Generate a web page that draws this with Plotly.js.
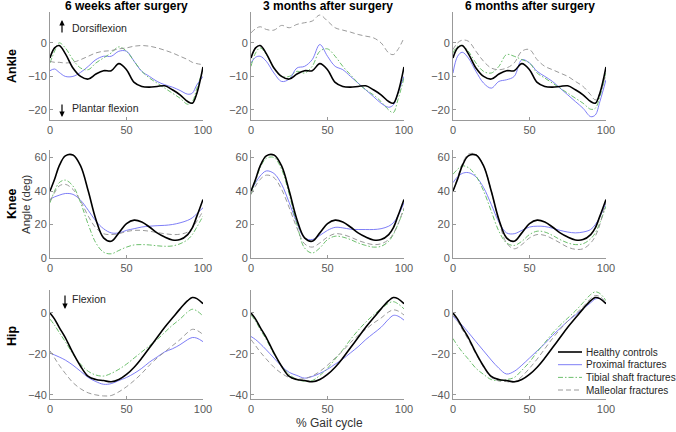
<!DOCTYPE html>
<html>
<head>
<meta charset="utf-8">
<script src="https://cdn.plot.ly/plotly-3.0.1.min.js"></script>
<style>html,body{margin:0;padding:0;background:#fff;}#chart{width:676px;height:432px;}</style>
</head>
<body>
<div id="chart"></div>
<script>
// % gait cycle sample points
const gait = [0,3,6,10,15,20,25,30,35,40,45,50,55,60,65,70,75,80,85,90,93,96,100];

const seriesNames = ["Healthy controls","Proximal fractures","Tibial shaft fractures","Malleolar fractures"];
const colTitles = ["6 weeks after surgery","3 months after surgery","6 months after surgery"];
const rowLabels = ["Ankle","Knee","Hip"];

// Healthy controls (same in every column)
const ankleHealthy = [-4.5,-1.5,-0.8,-3.2,-7.5,-10,-10.8,-9.3,-8.3,-8.3,-6.2,-8,-11.8,-13,-13.2,-13,-12.8,-14,-15.5,-17.5,-18,-15,-7.2];
const kneeHealthy  = [40,47,55,61,61.5,55,40,23,12,10,15,20.5,22.6,21.5,18.5,15,12.5,10.8,11,14,18,25,35];
const hipHealthy   = [0,-3,-7,-12,-19.5,-26,-31,-32.5,-33,-33.6,-32.5,-30,-26.5,-22,-17,-12,-7,-2.5,2,6,7.5,7,4.5];

// Ankle
const ankleProx6w = [-8.3,-7.8,-8.8,-10,-10,-8.8,-7,-5,-4,-4,-2.5,-2.5,-5.5,-8.5,-10,-11.5,-12.5,-13.2,-14.2,-15.3,-15,-12.5,-10];
const ankleTib6w  = [-6,-2.5,0,-1.5,-5,-7.5,-8,-6,-4.5,-3,-1.2,-2.5,-5.5,-8.5,-10.5,-12,-13.5,-15,-16.5,-18.3,-17.5,-13.5,-8];
const ankleMall6w = [-5.5,-5.8,-5.8,-6,-5.8,-5,-4,-3,-2.5,-2.3,-1.8,-1.5,-1,-0.8,-1,-1.5,-2.2,-3,-4,-5,-5.8,-6.2,-6.5];
const ankleProx3m = [-6,-4.3,-4,-5.5,-9,-11.5,-10.8,-7.5,-7,-5,-0.5,-4,-7,-8,-10,-12,-14,-16,-18,-19.2,-18.5,-15,-10];
const ankleTib3m  = [-7,-3,-1.5,-3.5,-7.5,-10,-10,-8.5,-9,-7,-2.5,-1.8,-4,-7,-9.5,-12,-14,-15.5,-17.5,-20,-20.8,-17,-10.5];
const ankleMall3m = [3,4.2,4.8,4,3.8,5.2,4.5,5.5,6,6.5,8.3,6.5,4.5,3.8,3.2,2.5,2,1.5,0,-3,-3.5,-2,1.5];
const ankleProx6m = [-9,-4,-2.8,-4.5,-8.5,-12,-13.5,-11.5,-11,-10,-5,-6,-8.5,-10,-11.5,-13.5,-15.5,-17.5,-19.5,-22,-21.5,-17.5,-11];
const ankleTib6m  = [-3,-1,-0.8,-2.5,-6,-8.5,-9,-7,-3.5,-4,-5,-6,-9,-10.5,-12,-13.5,-15,-16.5,-18,-19.8,-19.5,-16,-9];
const ankleMall6m = [-2,0,0.8,0.5,-2.5,-5.5,-7.5,-8,-7.5,-6,-2.5,-2,-5,-7,-8,-9,-10,-11.5,-13,-15.5,-17,-15,-9];

// Knee
const kneeProx6w = [35,36.5,37.5,38.5,38,34.5,28.5,22,17.5,15,15,16.5,17.5,18.5,19,19.3,19.5,20,21,22.5,24,26.5,30];
const kneeTib6w  = [33,40,45,46.5,43,33,20,9,3.5,2.5,4.5,6.5,7.8,8,7.8,7.3,7,7.2,8.5,11,14,18.5,25];
const kneeMall6w = [34,39,43,44,41,34,25,18,14.5,14,14.5,15.8,16.5,16.5,16,15.2,14.5,14,14.2,15.5,18,22,28];
const kneeProx3m = [40,45,49,52,50.5,44,33,21,12,11,13.5,16.5,18.3,18,17.2,17,17,17,17.5,19,21,25,33];
const kneeTib3m  = [38,46,54,59.5,60,53,38,20,6,3,6,11,13,12.5,11,9,7.5,6.5,7,10,14,20,29];
const kneeMall3m = [38,43,47,49.5,48,41,30,18,8.5,6.5,9,12.5,14.5,14,12.5,10.5,9,8,8.5,11,14.5,20,30];
const kneeProx6m = [45,48.5,50.5,51,48.5,42,32,21.5,15,14.5,16.5,18.5,19,18.8,17.8,16.5,15.5,15,15.5,17,20,24.5,33];
const kneeTib6m  = [50,53,55,54,49,40,28,16,9,7.5,10,14,16,15.5,13.5,11,9,8,8.5,11.5,15,21,31];
const kneeMall6m = [40,48,56,62,62,55,40,22,9,5.5,8,12,14,13.5,11.5,9,6.5,5.2,5.5,9,13,20,34];

// Hip
const hipProx6w = [-19.5,-20.5,-21.5,-23,-25.5,-28.5,-31.5,-33.5,-34.8,-34.5,-33,-31.5,-29.5,-27,-24,-21.5,-19,-17.5,-15.5,-13,-12,-12.3,-14];
const hipTib6w  = [-3,-6,-9.5,-14,-20,-25,-28.5,-30.3,-30.8,-29.5,-27.5,-25,-22,-19,-16,-13,-9.5,-6,-3,0.5,1.8,1,-1.5];
const hipMall6w = [-18.5,-22,-25.5,-29.5,-34,-37,-39,-40,-40.5,-40.3,-38.5,-36,-33,-29.5,-25.5,-22,-19,-16,-13,-9.5,-8,-8.5,-10.5];
const hipProx3m = [-11.5,-13,-15,-18,-22,-26,-29,-30.5,-31.8,-31,-29.5,-27.5,-25,-22.5,-19.5,-16.5,-13,-10,-7,-3,-1.2,-1.5,-3.5];
const hipTib3m  = [-1,-4,-8,-13,-20,-26,-30,-32.5,-33.3,-33,-30.5,-27,-22.5,-18,-13,-8.5,-4.5,-1,2,4.8,5.5,4.5,2];
const hipMall3m = [-13,-16,-19,-22.5,-26.5,-29.5,-31.5,-32.3,-32,-30.8,-28.5,-25.5,-22,-18.5,-14.5,-11,-8,-5,-2.5,0.5,1.5,1,-1];
const hipProx6m = [-1.5,-4,-6,-9.5,-14,-18.5,-23,-27,-29.8,-28.5,-25.5,-22,-18.5,-15,-11,-7.5,-4,-1,2,5,6.8,7,4.5];
const hipTib6m  = [-12.5,-16,-19,-22.5,-27,-30,-32.5,-33,-32.5,-31.5,-28,-24,-19,-14.5,-10,-6,-2.5,1,5,9,10.3,9.5,6];
const hipMall6m = [-0.5,-4,-8,-13,-20,-26.5,-31.5,-33.2,-33.5,-33.8,-31,-27,-22.5,-17.5,-12.5,-8,-4,-0.5,3,7,8.5,8,5];

const panels = [
  [[ankleHealthy, ankleProx6w, ankleTib6w, ankleMall6w],
   [ankleHealthy, ankleProx3m, ankleTib3m, ankleMall3m],
   [ankleHealthy, ankleProx6m, ankleTib6m, ankleMall6m]],
  [[kneeHealthy, kneeProx6w, kneeTib6w, kneeMall6w],
   [kneeHealthy, kneeProx3m, kneeTib3m, kneeMall3m],
   [kneeHealthy, kneeProx6m, kneeTib6m, kneeMall6m]],
  [[hipHealthy, hipProx6w, hipTib6w, hipMall6w],
   [hipHealthy, hipProx3m, hipTib3m, hipMall3m],
   [hipHealthy, hipProx6m, hipTib6m, hipMall6m]]
];

const W = 676, H = 432;
const styles = [
  {color:'#000000', width:1.6, dash:'solid'},
  {color:'#6f6ff5', width:0.9, dash:'solid'},
  {color:'#5cb85c', width:0.9, dash:'5px,2px,1.5px,2px'},
  {color:'#8f8f8f', width:0.9, dash:'5px,3px'}
];
const colPx = [[50,203],[251,404],[453,606]];
const rowPx = [[12,120],[150,258],[290,399]];
const yRanges = [[-23,9.2],[0,64.5],[-42,11.2]];
const yTicks = [[-20,-10,0],[0,20,40,60],[-40,-20,0]];
const font = 'Liberation Sans, Arial, sans-serif';

const traces = [];
const layout = {
  width: W, height: H, margin:{l:0,r:0,t:0,b:0},
  paper_bgcolor:'#fff', plot_bgcolor:'#fff',
  font:{family:font, size:11, color:'#595959'},
  showlegend:false,
  annotations:[], shapes:[]
};

for (let r=0;r<3;r++){
  for (let c=0;c<3;c++){
    const n = r*3+c+1;
    const xa = n===1?'x':'x'+n, ya = n===1?'y':'y'+n;
    const xk = n===1?'xaxis':'xaxis'+n, yk = n===1?'yaxis':'yaxis'+n;
    layout[xk] = {domain:[colPx[c][0]/W, colPx[c][1]/W], anchor:ya, range:[0,100],
      tickvals:[0,50,100], ticks:'inside', ticklen:3, tickcolor:'#999', showline:true, linecolor:'#999',
      linewidth:1, showgrid:false, zeroline:false, tickfont:{size:11,color:'#595959'}};
    layout[yk] = {domain:[1-rowPx[r][1]/H, 1-rowPx[r][0]/H], anchor:xa, range:yRanges[r],
      tickvals:yTicks[r], ticks:'inside', ticklen:3, tickcolor:'#999', showline:true, linecolor:'#999',
      linewidth:1, showgrid:false, zeroline:false, tickfont:{size:11,color:'#595959'}};
    const order = [1,2,3,0];
    order.forEach(k=>{
      traces.push({x:gait, y:panels[r][c][k], xaxis:xa, yaxis:ya, type:'scatter', mode:'lines',
        line:{color:styles[k].color, width:styles[k].width, dash:styles[k].dash, shape:'spline', smoothing:1},
        name:seriesNames[k], showlegend:false, hoverinfo:'skip'});
    });
  }
}

const A = layout.annotations;
colTitles.forEach((t,c)=>{
  A.push({text:'<b>'+t+'</b>', xref:'paper', yref:'paper', x:(colPx[c][0]+colPx[c][1])/2/W, y:1-6/H,
    xanchor:'center', yanchor:'middle', showarrow:false, font:{family:font,size:12,color:'#000'}});
});
const rowCenters = [66, 204, 336];
rowLabels.forEach((t,r)=>{
  A.push({text:'<b>'+t+'</b>', xref:'paper', yref:'paper', x:12/W, y:1-rowCenters[r]/H,
    xanchor:'center', yanchor:'middle', textangle:-90, showarrow:false, font:{family:font,size:12.5,color:'#000'}});
});
A.push({text:'Angle (deg)', xref:'paper', yref:'paper', x:26/W, y:1-204/H, xanchor:'center', yanchor:'middle',
  textangle:-90, showarrow:false, font:{family:font,size:11.5,color:'#333'}});
A.push({text:'% Gait cycle', xref:'paper', yref:'paper', x:329/W, y:1-423/H, xanchor:'center', yanchor:'middle',
  showarrow:false, font:{family:font,size:12,color:'#333'}});
// direction labels
A.push({text:'Dorsiflexion', xref:'paper', yref:'paper', x:70/W, y:1-28/H, xanchor:'left', yanchor:'middle',
  showarrow:false, font:{family:font,size:10.5,color:'#262626'}});
A.push({text:'Plantar flexion', xref:'paper', yref:'paper', x:70/W, y:1-108/H, xanchor:'left', yanchor:'middle',
  showarrow:false, font:{family:font,size:10.5,color:'#262626'}});
A.push({text:'Flexion', xref:'paper', yref:'paper', x:70/W, y:1-299/H, xanchor:'left', yanchor:'middle',
  showarrow:false, font:{family:font,size:10.5,color:'#262626'}});
// arrows
const arrows = [[62,20,14],[62,117,-14],[65,309,-15]];
arrows.forEach(a=>{
  A.push({text:'', xref:'paper', yref:'paper', x:a[0]/W, y:1-a[1]/H, ax:0, ay:a[2], showarrow:true,
    arrowhead:2, arrowsize:0.9, arrowwidth:1.2, arrowcolor:'#000'});
});

// compact legend (inside the bottom-right panel)
const legRows = [352, 364.7, 377.4, 390];
seriesNames.forEach((nm,k)=>{
  layout.shapes.push({type:'line', xref:'paper', yref:'paper', x0:558/W, x1:582/W,
    y0:1-legRows[k]/H, y1:1-legRows[k]/H,
    line:{color:styles[k].color, width:styles[k].width, dash:styles[k].dash}});
  A.push({text:nm, xref:'paper', yref:'paper', x:584/W, y:1-legRows[k]/H, xanchor:'left', yanchor:'middle',
    showarrow:false, font:{family:font,size:10,color:'#262626'}});
});

Plotly.newPlot('chart', traces, layout, {staticPlot:true, displayModeBar:false});
</script>
</body>
</html>
